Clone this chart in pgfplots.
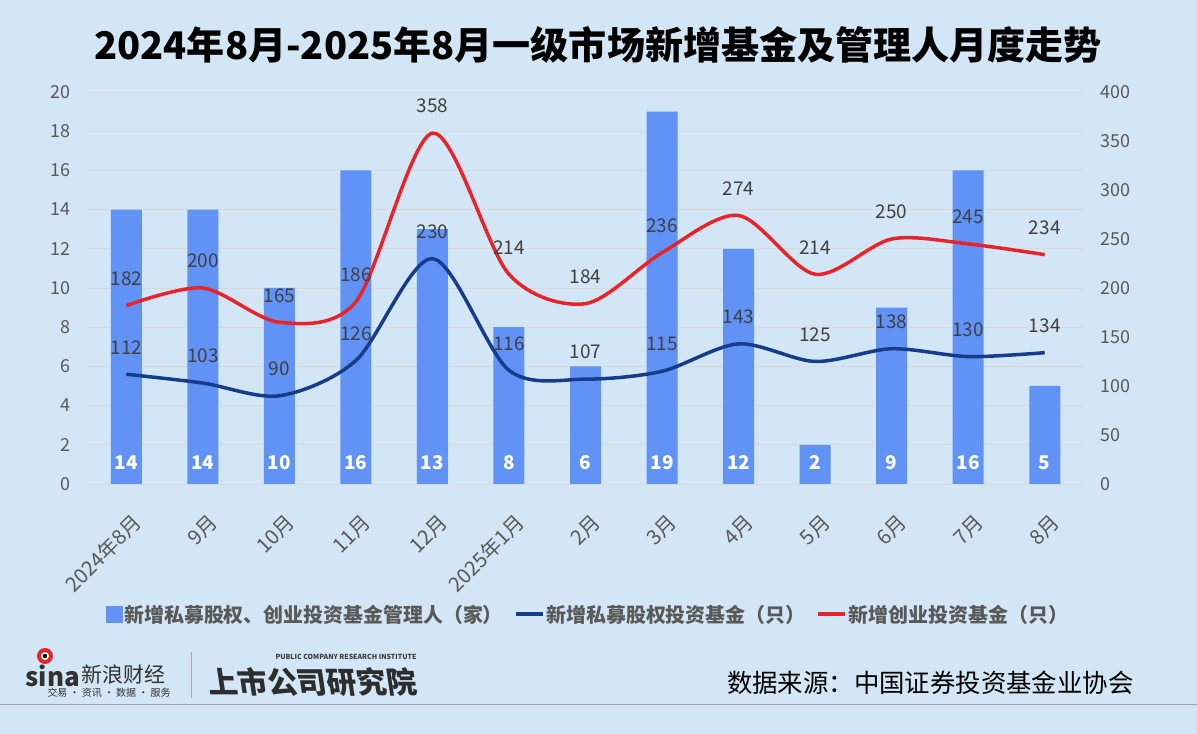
\documentclass[border=0pt]{standalone}
\usepackage{pgfplots}
\pgfplotsset{compat=1.18}
\usepackage{fontspec}
\setmainfont{Noto Sans CJK SC}
\definecolor{bg}{RGB}{210,230,245}
\definecolor{barc}{RGB}{97,146,246}
\definecolor{dblue}{RGB}{22,60,140}
\definecolor{redl}{RGB}{232,35,42}
\definecolor{tickc}{RGB}{89,89,89}
\definecolor{labc}{RGB}{64,64,64}
\definecolor{gridc}{RGB}{217,217,217}
\begin{document}
\begin{tikzpicture}[x=1bp,y=1bp]
\fill[bg] (0,0) rectangle (1197,734);
\node[font=\fontsize{38.2}{40}\selectfont\bfseries, text=black] at (598,689) {2024年8月-2025年8月一级市场新增基金及管理人月度走势};
\begin{axis}[at={(88bp,250bp)}, anchor=south west, scale only axis,
  width=995bp, height=392bp,
  xmin=-0.5, xmax=12.5, ymin=0, ymax=20,
  ytick={0,2,...,20}, ymajorgrids, grid style={gridc, line width=0.8bp},
  axis line style={draw=none}, major tick length=0,
  xtick={0,...,12},
  xticklabels={2024年8月,9月,10月,11月,12月,2025年1月,2月,3月,4月,5月,6月,7月,8月},
  xticklabel style={rotate=45, anchor=north east, font=\fontsize{20.5}{20}\selectfont, text=tickc, xshift=-13bp, yshift=-20bp},
  yticklabel style={font=\fontsize{18}{18}\selectfont, text=tickc, anchor=east, xshift=-14bp},
  /pgf/number format/assume math mode=true,
  clip=false]
\addplot[ybar, bar width=31bp, fill=barc, draw=none] coordinates {(0,14) (1,14) (2,10) (3,16) (4,13) (5,8) (6,6) (7,19) (8,12) (9,2) (10,9) (11,16) (12,5)};
\addplot[draw=none, mark=none, nodes near coords, point meta=explicit symbolic,
  every node near coord/.style={anchor=center, yshift=21bp, text=white, font=\fontsize{19}{19}\selectfont\bfseries}]
  coordinates {(0,0) [14] (1,0) [14] (2,0) [10] (3,0) [16] (4,0) [13] (5,0) [8] (6,0) [6] (7,0) [19] (8,0) [12] (9,0) [2] (10,0) [9] (11,0) [16] (12,0) [5]};
\end{axis}
\begin{axis}[at={(88bp,250bp)}, anchor=south west, scale only axis,
  width=995bp, height=392bp,
  xmin=-0.5, xmax=12.5, ymin=0, ymax=400,
  ytick={0,50,...,400}, axis y line*=right, axis x line=none,
  axis line style={draw=none}, major tick length=0,
  yticklabel style={font=\fontsize{18}{18}\selectfont, text=tickc, anchor=west, xshift=14bp},
  /pgf/number format/assume math mode=true,
  clip=false,
  legend columns=3,
  legend style={at={(0.5025,-0.332)}, anchor=center, draw=none, fill=none,
    font=\fontsize{20}{20}\selectfont\bfseries, text=tickc,
    /tikz/every even column/.append style={column sep=9bp}},
  nodes near coords style={font=\fontsize{19}{19}\selectfont, text=labc, anchor=center, yshift=27bp}]
\addlegendimage{legend image code/.code={\fill[barc] (0bp,-8bp) rectangle (16bp,8bp);}}
\addlegendentry{新增私募股权、创业投资基金管理人（家）}
\addplot[dblue, line width=3.5bp, smooth, tension=0.5, nodes near coords,
  legend image code/.code={\draw[dblue, line width=3.5bp] (0bp,0bp) -- (27bp,0bp);}]
  coordinates {(0,112) (1,103) (2,90) (3,126) (4,230) (5,116) (6,107) (7,115) (8,143) (9,125) (10,138) (11,130) (12,134)};
\addlegendentry{新增私募股权投资基金（只）}
\addplot[redl, line width=3.5bp, smooth, tension=0.5, nodes near coords,
  legend image code/.code={\draw[redl, line width=3.5bp] (0bp,0bp) -- (27bp,0bp);}]
  coordinates {(0,182) (1,200) (2,165) (3,186) (4,358) (5,214) (6,184) (7,236) (8,274) (9,214) (10,250) (11,245) (12,234)};
\addlegendentry{新增创业投资基金（只）}
\end{axis}
% footer
\draw[color={rgb,255:red,160;green,160;blue,168}, line width=1bp] (0,29) -- (1197,29);
\node[anchor=east, font=\fontsize{25.5}{25}\selectfont, text=black] at (1137,51) {数据来源：中国证券投资基金业协会};
\node[anchor=west, font=\fontsize{26}{26}\selectfont\bfseries\itshape, text={rgb,255:red,50;green,50;blue,50}] at (22,58) {sina};
\fill[redl] (45,78) circle (8);
\fill[white] (45,78) circle (4);
\fill[black] (45,78) circle (2.2);
\node[anchor=west, font=\fontsize{21}{21}\selectfont, text={rgb,255:red,50;green,50;blue,50}] at (78,59) {新浪财经};
\node[anchor=west, font=\fontsize{10}{10}\selectfont, text={rgb,255:red,50;green,50;blue,50}] at (44,41) {交易 · 资讯 · 数据 · 服务};
\draw[color={rgb,255:red,170;green,170;blue,170}, line width=0.8bp] (191,36) -- (191,82);
\node[anchor=west, font=\fontsize{7}{7}\selectfont\bfseries\itshape, text={rgb,255:red,60;green,60;blue,60}] at (272,77) {PUBLIC COMPANY RESEARCH INSTITUTE};
\node[anchor=west, font=\fontsize{30}{30}\selectfont\bfseries, text={rgb,255:red,45;green,45;blue,45}, xslant=-0.15] at (204,52) {上市公司研究院};
\pgfresetboundingbox
\useasboundingbox (0,0) rectangle (1197,734);
\end{tikzpicture}
\end{document}
